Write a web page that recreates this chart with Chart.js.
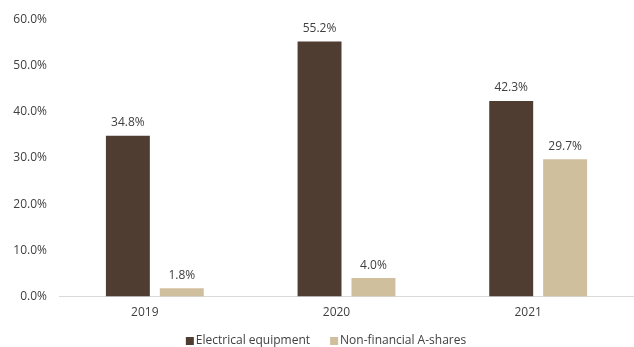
<!DOCTYPE html>
<html lang="en">
<head>
<meta charset="UTF-8">
<title>Electrical equipment vs Non-financial A-shares</title>
<script src="https://cdn.jsdelivr.net/npm/chart.js@4"></script>
<style>
  * { margin: 0; padding: 0; box-sizing: border-box; }
  body { background: #fff; width: 634px; height: 347px; overflow: hidden; }
  #wrap { position: relative; width: 634px; height: 347px; }
</style>
</head>
<body>
<div id="wrap"><canvas id="chart"></canvas></div>
<script>
const years = ['2019', '2020', '2021'];
const electrical = [34.8, 55.2, 42.3];
const nonFinancial = [1.8, 4.0, 29.7];
const yTicks = [0, 10, 20, 30, 40, 50, 60];

const FONT = "12px 'Open Sans', 'Noto Sans', sans-serif";
Chart.defaults.font.family = "'Open Sans', 'Noto Sans', sans-serif";
Chart.defaults.font.size = 12;
Chart.defaults.color = '#404040';

// value labels above each bar
const barLabels = {
  id: 'barLabels',
  afterDatasetsDraw(chart) {
    const ctx = chart.ctx;
    ctx.save();
    ctx.font = FONT;
    ctx.fillStyle = '#404040';
    ctx.textAlign = 'center';
    ctx.textBaseline = 'middle';
    chart.data.datasets.forEach((ds, i) => {
      chart.getDatasetMeta(i).data.forEach((bar, j) => {
        ctx.fillText(ds.data[j].toFixed(1) + '%', bar.x, bar.y - 13);
      });
    });
    ctx.restore();
  }
};

// small legend under the axis, slightly right of centre like the original
const bottomLegend = {
  id: 'bottomLegend',
  afterDraw(chart) {
    const ctx = chart.ctx;
    ctx.save();
    ctx.font = FONT;
    ctx.textBaseline = 'middle';
    ctx.textAlign = 'left';
    const items = chart.data.datasets.map(ds => ({ text: ds.label, color: ds.backgroundColor, w: ctx.measureText(ds.label).width }));
    const total = items.reduce((s, it) => s + 10 + it.w, 0) + 20 * (items.length - 1);
    let x = 326 - total / 2;
    const y = 341;
    for (const it of items) {
      ctx.fillStyle = it.color;
      ctx.fillRect(x, y - 4, 8, 8);
      ctx.fillStyle = '#404040';
      ctx.fillText(it.text, x + 10, y);
      x += 10 + it.w + 20;
    }
    ctx.restore();
  }
};

new Chart(document.getElementById('chart'), {
  type: 'bar',
  data: {
    labels: years,
    datasets: [
      { label: 'Electrical equipment', data: electrical, backgroundColor: '#4f3d31' },
      { label: 'Non-financial A-shares', data: nonFinancial, backgroundColor: '#d0bf9d' }
    ]
  },
  options: {
    responsive: true,
    maintainAspectRatio: false,
    animation: false,
    categoryPercentage: 0.5625,
    barPercentage: 0.815,
    layout: { padding: { top: 16, right: 0, bottom: 18, left: 0 } },
    plugins: {
      legend: { display: false },
      tooltip: { enabled: false }
    },
    scales: {
      x: {
        grid: { display: false, drawTicks: false },
        border: { display: true, color: '#d9d9d9', width: 1 },
        ticks: { padding: 9, labelOffset: -10, color: '#404040' }
      },
      y: {
        min: 0,
        max: 60,
        afterBuildTicks: s => { s.ticks = yTicks.map(v => ({ value: v })); },
        afterFit: s => { s.width = 59; },
        grid: { display: false, drawTicks: false },
        border: { display: false },
        ticks: { padding: 12, color: '#404040', callback: v => v.toFixed(1) + '%' }
      }
    }
  },
  plugins: [barLabels, bottomLegend]
});
</script>
</body>
</html>
